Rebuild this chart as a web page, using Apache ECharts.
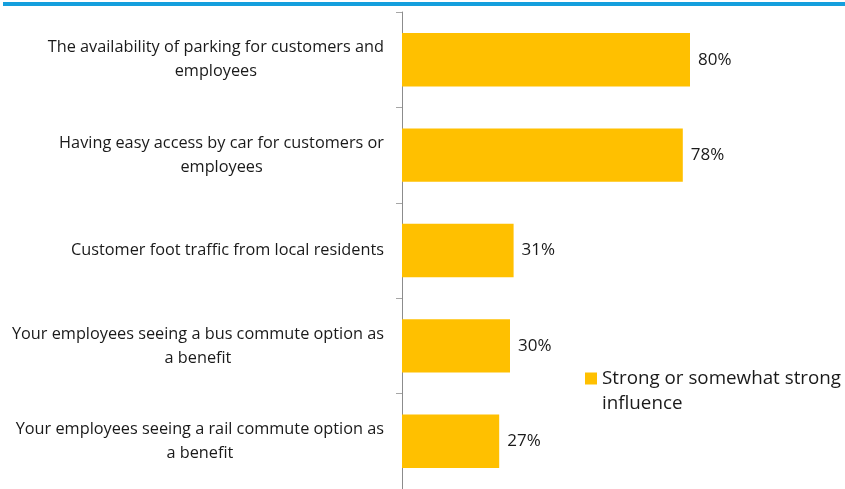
<!DOCTYPE html>
<html>
<head>
<meta charset="utf-8">
<script src="https://cdn.jsdelivr.net/npm/echarts@6/dist/echarts.min.js"></script>
<style>
  html, body { margin: 0; padding: 0; background: #fff; }
  #chart { width: 845px; height: 489px; }
</style>
</head>
<body>
<div id="chart"></div>
<script>
// Survey factors, top to bottom
const categories = [
  'The availability of parking for customers and\nemployees',
  'Having easy access by car for customers or\nemployees',
  'Customer foot traffic from local residents',
  'Your employees seeing a bus commute option as\na benefit',
  'Your employees seeing a rail commute option as\na benefit'
];
// Share answering strong or somewhat strong influence (%)
const influenceValues = [80, 78, 31, 30, 27];
const seriesName = 'Strong or somewhat strong influence';

const fontFamily = '"Open Sans", "Noto Sans", sans-serif';
const chart = echarts.init(document.getElementById('chart'), null, { renderer: 'canvas' });

// Each label line is centred within the right-aligned label block
const centredLines = text => text.split('\n').map(l => '{c|' + l + '}').join('\n');

chart.setOption({
  animation: false,
  backgroundColor: '#ffffff',
  graphic: [
    { type: 'rect', left: 3, top: 2, shape: { width: 842, height: 4 }, style: { fill: '#159FDD' } }
  ],
  grid: { left: 402, right: 83, top: 12, bottom: 0, containLabel: false },
  legend: {
    left: 585,
    top: 341,
    padding: 0,
    itemWidth: 12,
    itemHeight: 12,
    itemGap: 6,
    icon: 'rect',
    // blank first line keeps the swatch level with the first text line
    formatter: () => '{t| }\n{t|Strong or somewhat strong}\n{t|influence}',
    textStyle: {
      fontFamily: fontFamily,
      fontSize: 18.8,
      color: '#1a1a1a',
      lineHeight: 25,
      rich: {
        t: { fontFamily: fontFamily, fontSize: 18.8, color: '#1a1a1a', lineHeight: 25 }
      }
    },
    data: [seriesName]
  },
  xAxis: {
    type: 'value',
    min: 0,
    max: 100,
    show: false
  },
  yAxis: {
    type: 'category',
    data: categories,
    inverse: true,
    axisLine: { show: true, lineStyle: { color: '#8c8c8c', width: 1 } },
    axisTick: { show: true, length: 6, lineStyle: { color: '#a6a6a6' } },
    axisLabel: {
      fontFamily: fontFamily,
      fontSize: 16.3,
      color: '#1a1a1a',
      lineHeight: 24,
      margin: 18,
      align: 'right',
      formatter: centredLines,
      rich: {
        c: { align: 'center', fontFamily: fontFamily, fontSize: 16.3, color: '#1a1a1a', lineHeight: 24 }
      }
    },
    splitLine: { show: false }
  },
  series: [{
    name: seriesName,
    type: 'bar',
    data: influenceValues,
    barWidth: '56%',
    itemStyle: { color: '#FFC000' },
    label: {
      show: true,
      position: 'right',
      distance: 8,
      formatter: p => p.value + '%',
      fontFamily: fontFamily,
      fontSize: 17,
      color: '#1a1a1a'
    }
  }]
});
</script>
</body>
</html>
